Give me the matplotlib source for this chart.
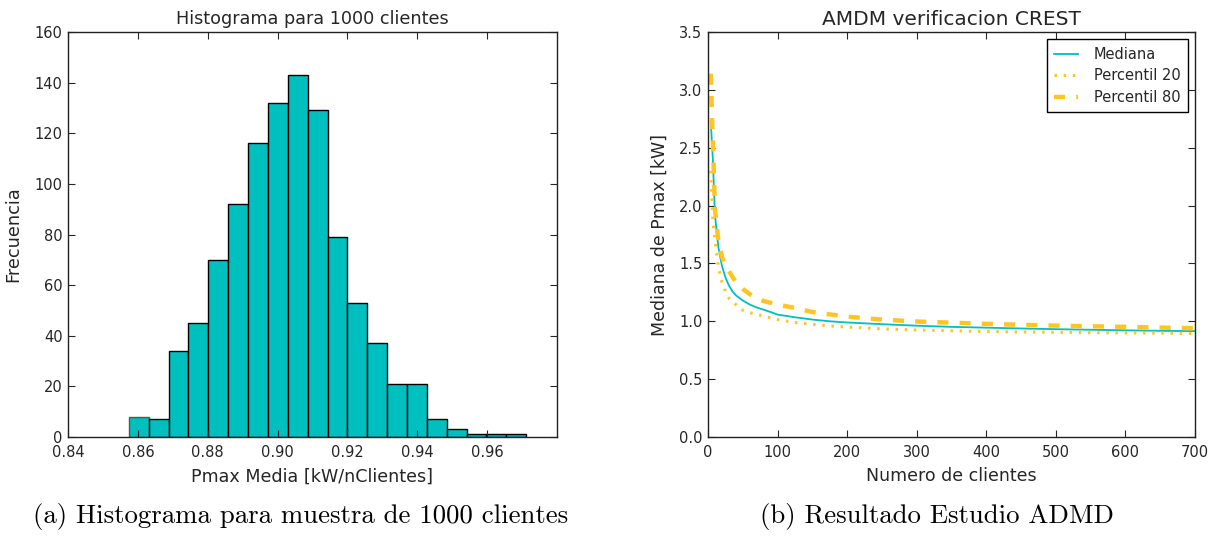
import numpy as np
import matplotlib
matplotlib.use("Agg")
import matplotlib.pyplot as plt

# ---------------- data ----------------
hist_counts = [8, 7, 34, 45, 70, 92, 116, 132, 143, 129, 79, 53, 37, 21, 21, 7, 3, 1, 1, 1]
hist_range = (0.8574, 0.9712)

n_clientes = [4, 7, 10, 15, 20, 25, 30, 35, 40, 50, 60, 70, 80, 90, 100, 125, 150, 175,
              200, 250, 300, 350, 400, 450, 500, 550, 600, 650, 700]
mediana = [2.73, 2.40, 1.92, 1.64, 1.48, 1.38, 1.31, 1.26, 1.225, 1.18, 1.145, 1.12, 1.10,
           1.08, 1.058, 1.035, 1.015, 1.0, 0.99, 0.975, 0.962, 0.952, 0.945, 0.938,
           0.932, 0.927, 0.922, 0.918, 0.915]
percentil20 = [2.30, 1.87, 1.70, 1.47, 1.34, 1.26, 1.20, 1.17, 1.145, 1.095, 1.075, 1.06,
               1.045, 1.03, 1.015, 0.99, 0.975, 0.96, 0.95, 0.935, 0.925, 0.918, 0.912,
               0.908, 0.905, 0.902, 0.90, 0.898, 0.895]
percentil80 = [3.14, 2.55, 1.97, 1.69, 1.56, 1.48, 1.435, 1.385, 1.34, 1.28, 1.235, 1.20,
               1.175, 1.16, 1.145, 1.115, 1.08, 1.06, 1.04, 1.015, 0.998, 0.988, 0.978,
               0.97, 0.963, 0.957, 0.952, 0.946, 0.94]

hist_xticks = [0.84, 0.86, 0.88, 0.90, 0.92, 0.94, 0.96]
hist_yticks = [0, 20, 40, 60, 80, 100, 120, 140, 160]
curve_xticks = [0, 100, 200, 300, 400, 500, 600, 700]
curve_yticks = [0.0, 0.5, 1.0, 1.5, 2.0, 2.5, 3.0, 3.5]

# ---------------- style ----------------
plt.rcParams['font.family'] = ['DejaVu Sans']
TXT = '#262626'
GOLD = '#FFC522'
CYAN = '#00BFBF'

fig = plt.figure(figsize=(12.1, 5.41), dpi=100, facecolor='white')

def style_axes(ax):
    ax.tick_params(direction='in', top=True, right=True, length=5, width=0.8,
                   labelsize=10.5, colors=TXT)
    ax.tick_params(axis='x', pad=6)
    ax.tick_params(axis='y', pad=4)
    for s in ax.spines.values():
        s.set_linewidth(1.0)
        s.set_color('#222222')

# ---- left histogram ----
ax1 = fig.add_axes([0.0562, 0.1922, 0.4041, 0.7486])
edges = np.linspace(hist_range[0], hist_range[1], len(hist_counts) + 1)
_, _, patches = ax1.hist(edges[:-1], bins=edges, weights=hist_counts, color=CYAN,
                         edgecolor='black', linewidth=1.0)
patches[0].set_edgecolor('#555555')
ax1.set_xlim(0.84, 0.98)
ax1.set_ylim(0, 160)
ax1.set_xticks(hist_xticks)
ax1.set_xticklabels([f"{v:.2f}" for v in hist_xticks])
ax1.set_yticks(hist_yticks)
style_axes(ax1)
ax1.set_title("Histograma para 1000 clientes", fontsize=12.7, color=TXT, pad=6)
ax1.set_xlabel("Pmax Media [kW/nClientes]", fontsize=12.6, color=TXT, labelpad=5)
ax1.set_ylabel("Frecuencia", fontsize=12.8, color=TXT, labelpad=9)

# ---- right curves ----
ax2 = fig.add_axes([0.5851, 0.1922, 0.4025, 0.7486])
ax2.plot(n_clientes, mediana, color=CYAN, lw=1.3, label="Mediana")
ax2.plot(n_clientes, percentil20, color=GOLD, lw=2.2, linestyle=(0, (0.8, 2.2)),
         label="Percentil 20")
ax2.plot(n_clientes, percentil80, color=GOLD, lw=3.2, linestyle=(0, (2.5, 2.5)),
         label="Percentil 80")
ax2.set_xlim(0, 700)
ax2.set_ylim(0, 3.5)
ax2.set_xticks(curve_xticks)
ax2.set_yticks(curve_yticks)
ax2.set_yticklabels([f"{v:.1f}" for v in curve_yticks])
style_axes(ax2)
ax2.set_title("AMDM verificacion CREST", fontsize=14.5, color=TXT, pad=5)
ax2.set_xlabel("Numero de clientes", fontsize=12.5, color=TXT, labelpad=5)
ax2.set_ylabel("Mediana de Pmax [kW]", fontsize=12.5, color=TXT, labelpad=7)
leg = ax2.legend(loc='upper right', fontsize=10.5, fancybox=False, framealpha=1,
                 edgecolor='black', handlelength=1.6, borderpad=0.5,
                 labelspacing=0.45, handletextpad=1.1, borderaxespad=0.5)
leg.get_frame().set_linewidth(1.0)
for t in leg.get_texts():
    t.set_color(TXT)

# ---- captions ----
fig.text(0.248, 0.045, "(a) Histograma para muestra de 1000 clientes",
         ha='center', va='center', fontsize=19.3, family='cmr10')
fig.text(0.774, 0.045, "(b) Resultado Estudio ADMD",
         ha='center', va='center', fontsize=19.3, family='cmr10')

fig.savefig("out.png", dpi=100, facecolor='white')
